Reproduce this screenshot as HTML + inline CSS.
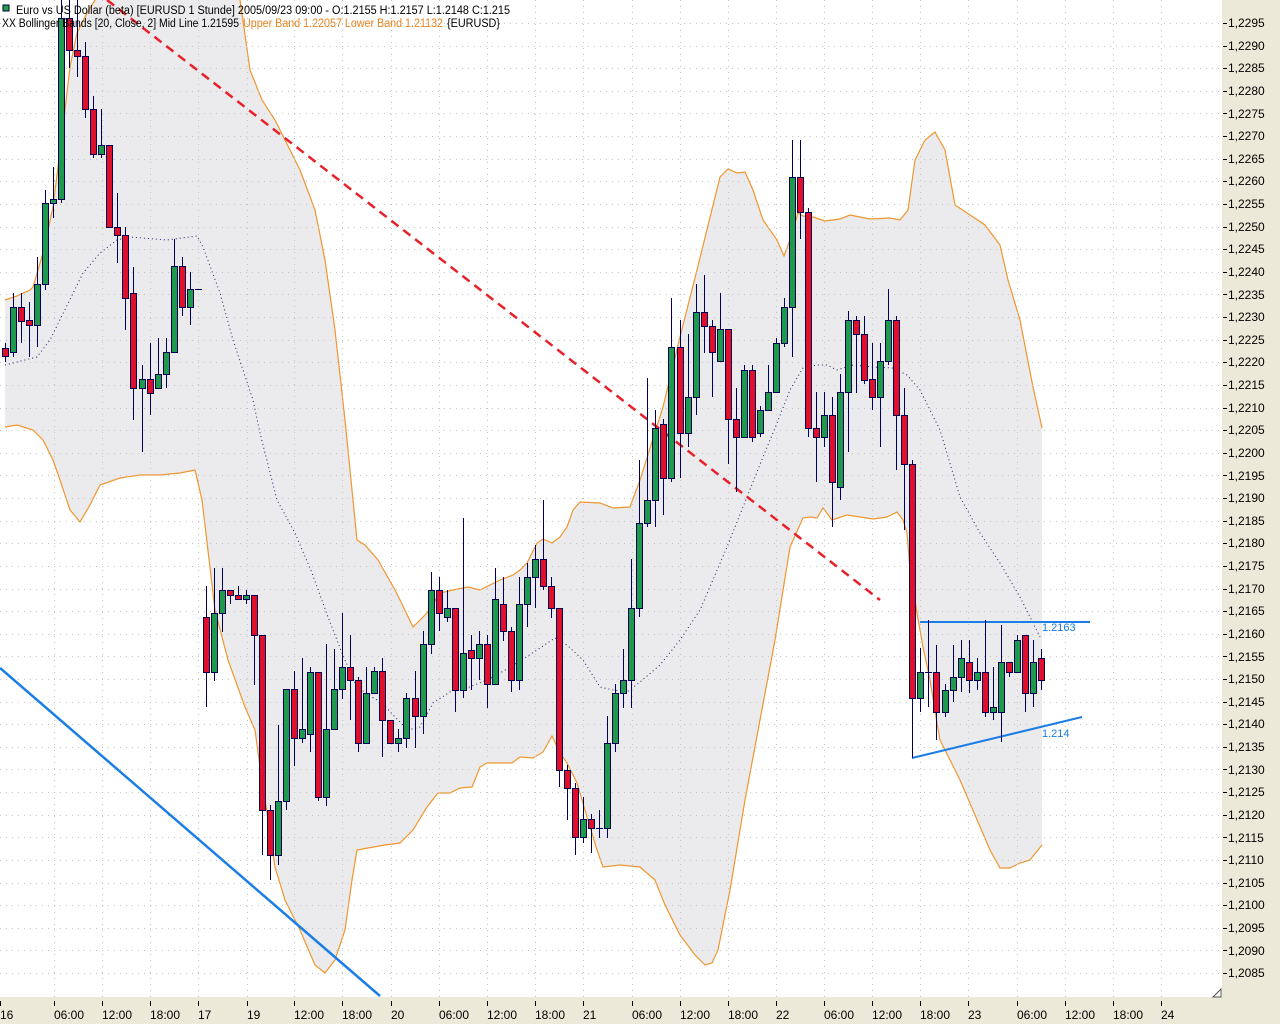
<!DOCTYPE html>
<html><head><meta charset="utf-8"><style>
html,body{margin:0;padding:0;background:#ece9d8;}
svg{display:block;font-family:"Liberation Sans",sans-serif;}
</style></head><body>
<svg id="s" width="1280" height="1024" xmlns="http://www.w3.org/2000/svg">
<rect x="0" y="0" width="1280" height="1024" fill="#ece9d8"/>
<rect x="0" y="0" width="1222" height="997" fill="#ffffff"/>
<g id="band"></g>
<g id="grid"></g>
<g id="mid"></g>
<g id="lines">
<line x1="0" y1="668" x2="380" y2="996" stroke="#1a7ee6" stroke-width="2.5"/>
<line x1="107" y1="0" x2="880" y2="600" stroke="#e8202a" stroke-width="2.5" stroke-dasharray="9,6"/>
<line x1="920" y1="622" x2="1090" y2="622" stroke="#1a7ee6" stroke-width="2"/>
<line x1="912" y1="758" x2="1082" y2="717" stroke="#1a7ee6" stroke-width="2"/>
</g>
<g id="candles"></g>
<g font-size="11" fill="#1a7ee6">
<text x="1042" y="631">1.2163</text>
<text x="1042" y="737">1.214</text>
</g>
<g id="axes" font-size="12" fill="#000"></g>
<path d="M1213 997 L1221 989 L1221 997 Z" fill="#fff" stroke="#555" stroke-width="1"/>
<g font-size="11.5" fill="#000">
<rect x="3" y="5" width="6" height="6" fill="#22a04a" stroke="#003" stroke-width="1"/>
<text x="16" y="14" textLength="494" lengthAdjust="spacingAndGlyphs">Euro vs US Dollar (beta) [EURUSD  1 Stunde] 2005/09/23 09:00 - O:1.2155 H:1.2157 L:1.2148 C:1.215</text>
<text x="2" y="27" textLength="237" lengthAdjust="spacingAndGlyphs">XX Bollinger Bands [20, Close, 2] Mid Line 1.21595</text>
<text x="243" y="27" fill="#e8831e" textLength="200" lengthAdjust="spacingAndGlyphs">Upper Band 1.22057 Lower Band 1.21132</text>
<text x="447" y="27" textLength="53" lengthAdjust="spacingAndGlyphs">{EURUSD}</text>
</g>
<g font-size="12" fill="#000">
<text x="0" y="1019">16</text><text x="54" y="1019">06:00</text><text x="102" y="1019">12:00</text><text x="150" y="1019">18:00</text>
<text x="198" y="1019">17</text><text x="247" y="1019">19</text><text x="294" y="1019">12:00</text><text x="342" y="1019">18:00</text>
<text x="391" y="1019">20</text><text x="439" y="1019">06:00</text><text x="487" y="1019">12:00</text><text x="535" y="1019">18:00</text>
<text x="583" y="1019">21</text><text x="632" y="1019">06:00</text><text x="680" y="1019">12:00</text><text x="728" y="1019">18:00</text>
<text x="776" y="1019">22</text><text x="824" y="1019">06:00</text><text x="872" y="1019">12:00</text><text x="920" y="1019">18:00</text>
<text x="968" y="1019">23</text><text x="1017" y="1019">06:00</text><text x="1065" y="1019">12:00</text><text x="1113" y="1019">18:00</text>
<text x="1161" y="1019">24</text>
</g>
<g font-size="12" fill="#000">
<text x="1228" y="27">1,2295</text><text x="1228" y="50">1,2290</text><text x="1228" y="72">1,2285</text><text x="1228" y="95">1,2280</text>
<text x="1228" y="118">1,2275</text><text x="1228" y="140">1,2270</text><text x="1228" y="163">1,2265</text><text x="1228" y="185">1,2260</text>
<text x="1228" y="208">1,2255</text><text x="1228" y="231">1,2250</text><text x="1228" y="253">1,2245</text><text x="1228" y="276">1,2240</text>
<text x="1228" y="299">1,2235</text><text x="1228" y="321">1,2230</text><text x="1228" y="344">1,2225</text><text x="1228" y="366">1,2220</text>
<text x="1228" y="389">1,2215</text><text x="1228" y="412">1,2210</text><text x="1228" y="434">1,2205</text><text x="1228" y="457">1,2200</text>
<text x="1228" y="480">1,2195</text><text x="1228" y="502">1,2190</text><text x="1228" y="525">1,2185</text><text x="1228" y="547">1,2180</text>
<text x="1228" y="570">1,2175</text><text x="1228" y="593">1,2170</text><text x="1228" y="615">1,2165</text><text x="1228" y="638">1,2160</text>
<text x="1228" y="661">1,2155</text><text x="1228" y="683">1,2150</text><text x="1228" y="706">1,2145</text><text x="1228" y="728">1,2140</text>
<text x="1228" y="751">1,2135</text><text x="1228" y="774">1,2130</text><text x="1228" y="796">1,2125</text><text x="1228" y="819">1,2120</text>
<text x="1228" y="842">1,2115</text><text x="1228" y="864">1,2110</text><text x="1228" y="887">1,2105</text><text x="1228" y="909">1,2100</text>
<text x="1228" y="932">1,2095</text><text x="1228" y="955">1,2090</text><text x="1228" y="977">1,2085</text>
</g>
</svg>
<script>
var NS="http://www.w3.org/2000/svg";
function el(p,t,a){var e=document.createElementNS(NS,t);for(var k in a)e.setAttribute(k,a[k]);p.appendChild(e);return e;}
var up=[[5,300],[17,296],[30,290],[33,287],[43,253],[53,207],[63,127],[70,67],[77,33],[87,13],[95,0],[110,-20],[230,-20],[240,0],[250,70],[262,100],[275,120],[290,150],[300,170],[315,210],[325,260],[335,330],[345,420],[353,500],[357,540],[365,545],[378,560],[395,590],[400,600],[413,627],[427,613],[440,593],[453,590],[468,587],[480,590],[500,580],[513,575],[520,570],[527,563],[537,543],[543,539],[552,543],[560,537],[567,527],[573,510],[580,502],[600,503],[613,508],[630,507],[640,480],[663,407],[680,337],[697,270],[720,177],[728,169],[737,173],[745,172],[753,190],[763,220],[777,240],[784,256],[790,240],[798,213],[803,216],[813,217],[825,221],[840,219],[850,215],[870,219],[890,218],[900,220],[908,210],[915,160],[925,140],[935,132],[945,150],[955,205],[970,215],[985,225],[1000,245],[1008,280],[1020,320],[1033,387],[1042,428]];
var lo=[[5,427],[17,425],[33,430],[43,440],[53,460],[60,480],[70,510],[80,522],[90,505],[100,485],[120,478],[140,475],[160,475],[180,473],[195,470],[202,500],[215,610],[228,660],[245,707],[255,730],[260,767],[267,813],[275,867],[285,900],[300,930],[315,965],[325,973],[335,960],[345,930],[352,880],[357,850],[368,848],[385,845],[400,843],[413,830],[427,807],[438,793],[450,793],[460,788],[472,787],[480,767],[487,763],[512,763],[520,757],[533,758],[543,752],[552,736],[560,753],[567,763],[577,783],[587,817],[597,850],[603,867],[620,865],[640,867],[655,880],[665,905],[680,935],[695,955],[705,965],[712,963],[718,950],[730,890],[745,800],[760,720],[775,640],[790,547],[803,518],[810,517],[817,518],[823,508],[832,520],[847,515],[873,519],[887,517],[897,512],[903,520],[907,533],[910,570],[917,613],[923,647],[930,680],[937,723],[940,740],[950,760],[960,780],[975,815],[990,850],[1000,868],[1010,868],[1020,863],[1030,860],[1042,845]];
var mid=[[5,365],[37,357],[50,340],[83,273],[100,253],[117,240],[130,237],[167,240],[197,236],[203,247],[220,293],[233,340],[253,400],[260,433],[277,500],[295,533],[312,573],[328,617],[342,653],[355,683],[365,693],[382,703],[395,717],[408,730],[420,727],[433,703],[453,690],[467,688],[487,680],[500,673],[517,663],[537,650],[555,638],[567,645],[583,660],[600,687],[613,690],[627,692],[640,682],[660,665],[680,640],[700,610],[727,547],[747,497],[763,457],[777,423],[790,390],[803,368],[817,365],[827,365],[837,370],[853,365],[873,367],[893,368],[907,375],[920,390],[940,430],[960,497],[980,533],[1000,563],[1020,597],[1040,637]];
function pts(a){return a.map(function(p){return p[0]+","+p[1]}).join(" ");}
var band=document.getElementById("band");
el(band,"polygon",{points:pts(up)+" "+pts(lo.slice().reverse()),fill:"#ebebed"});
el(band,"polyline",{points:pts(up),fill:"none",stroke:"#f0962e","stroke-width":"1.2"});
el(band,"polyline",{points:pts(lo),fill:"none",stroke:"#f0962e","stroke-width":"1.2"});
el(document.getElementById("mid"),"polyline",{points:pts(mid),fill:"none",stroke:"#1a1a6e","stroke-width":"1","stroke-dasharray":"1,3"});
var g=document.getElementById("grid"),ax=document.getElementById("axes");
for(var k=0;k<=42;k++){var y=Math.round(23+k*22.62)+0.5;
 el(g,"line",{x1:0,y1:y,x2:1222,y2:y,stroke:"#c4c4c4","stroke-width":"1","stroke-dasharray":"1,5"});
 el(ax,"line",{x1:1223,y1:y,x2:1227,y2:y,stroke:"#000","stroke-width":"1"});}
var vx=[54,102,150,198,247,294,342,391,439,487,535,583,632,680,728,776,824,872,920,968,1017,1065,1113,1161];
vx.forEach(function(x){x+=0.5;if(x<1222)el(g,"line",{x1:x,y1:0,x2:x,y2:997,stroke:"#c4c4c4","stroke-width":"1","stroke-dasharray":"1,5"});});
[0].concat(vx).forEach(function(x){el(ax,"line",{x1:x+0.5,y1:1001,x2:x+0.5,y2:1006,stroke:"#000","stroke-width":"1"});});
// [top,bottom,high,low,color]
var C=[[348,356,343,362,'r'],[307,352,293,357,'g'],[307,321,293,343,'r'],[320,325,302,357,'r'],[284,325,257,347,'g'],[203,284,190,290,'g'],[199,203,167,218,'g'],[18,199,0,203,'g'],[18,50,0,68,'r'],[50,56,0,77,'r'],
[56,109,42,118,'r'],[109,154,96,158,'r'],[145,154,109,158,'g'],[145,227,145,227,'r'],[227,235,193,263,'r'],[235,298,227,330,'r'],[293,388,267,420,'r'],[379,388,365,452,'g'],[379,393,343,415,'r'],[374,388,338,388,'g'],
[352,374,338,388,'g'],[266,352,239,352,'g'],[266,307,257,316,'r'],[289,307,272,325,'g'],[289,289,289,289,'d'],[617,672,586,707,'r'],[613,672,568,681,'g'],[590,613,568,632,'g'],[590,595,590,604,'r'],[595,599,586,599,'r'],
[595,599,590,604,'g'],[595,635,595,685,'r'],[635,810,635,855,'r'],[810,855,805,880,'r'],[801,855,725,865,'g'],[689,801,689,810,'g'],[689,738,671,766,'r'],[729,738,658,743,'g'],[672,734,667,752,'g'],[672,797,672,801,'r'],
[729,797,644,806,'g'],[689,729,649,729,'g'],[667,689,613,699,'g'],[667,680,635,720,'r'],[680,743,677,752,'r'],[693,743,667,743,'g'],[671,693,667,693,'g'],[671,720,658,757,'r'],[720,743,720,743,'r'],[738,743,729,752,'g'],
[698,738,693,748,'g'],[698,716,671,748,'r'],[644,716,631,734,'g'],[590,644,572,654,'g'],[590,613,577,631,'r'],[608,617,590,622,'g'],[608,690,608,712,'r'],[653,690,518,698,'g'],[650,658,635,690,'r'],[644,658,631,680,'g'],
[644,684,635,708,'r'],[599,684,568,684,'g'],[604,631,577,641,'r'],[631,680,627,692,'r'],[604,680,577,690,'g'],[577,604,563,627,'g'],[559,577,545,608,'g'],[559,586,500,590,'r'],[586,608,577,618,'r'],[608,770,608,787,'r'],
[770,788,765,820,'r'],[788,837,783,855,'r'],[819,837,797,843,'g'],[819,828,814,853,'r'],[828,828,810,838,'d'],[743,828,716,838,'g'],[693,743,684,752,'g'],[680,693,649,708,'g'],[608,680,559,708,'g'],[523,608,460,617,'g'],
[500,523,378,527,'g'],[428,500,410,527,'g'],[424,478,419,515,'r'],[347,478,298,482,'g'],[347,433,320,478,'r'],[397,433,334,447,'g'],[312,397,284,415,'g'],[312,326,275,353,'r'],[326,352,320,397,'r'],[329,361,293,361,'g'],
[329,419,329,464,'r'],[419,437,388,492,'r'],[370,437,365,437,'g'],[370,437,365,442,'r'],[410,433,406,437,'g'],[392,410,365,410,'g'],[343,392,338,392,'g'],[307,343,298,347,'g'],[177,307,140,357,'g'],[177,212,140,239,'r'],
[212,428,208,437,'r'],[428,437,392,482,'r'],[415,437,392,447,'g'],[415,482,397,527,'r'],[392,487,374,500,'g'],[320,392,311,452,'g'],[320,334,316,393,'r'],[334,380,316,384,'r'],[379,397,343,410,'r'],[361,397,343,447,'g'],
[320,361,289,365,'g'],[320,415,316,470,'r'],[415,464,388,530,'r'],[464,698,460,758,'r'],[672,698,648,712,'g'],[672,672,620,707,'d'],[672,712,645,740,'r'],[690,712,684,717,'g'],[677,690,645,702,'g'],[658,677,640,692,'g'],
[662,680,640,693,'r'],[672,680,658,690,'g'],[672,712,620,717,'r'],[707,712,667,720,'g'],[662,712,625,742,'g'],[662,672,662,677,'r'],[640,672,635,672,'g'],[635,693,635,712,'r'],[662,693,640,707,'g'],[658,680,649,690,'r']];
var cg=document.getElementById("candles");
C.forEach(function(c,i){var x=Math.round(5+8.03*i);
 el(cg,"line",{x1:x+0.5,y1:c[2],x2:x+0.5,y2:c[3],stroke:"#00005a","stroke-width":"1"});
 if(c[4]=='d'){el(cg,"line",{x1:x-3,y1:c[0]+0.5,x2:x+4,y2:c[0]+0.5,stroke:"#00005a","stroke-width":"1"});}
 else{var h=Math.max(c[1]-c[0],3);el(cg,"rect",{x:x-2.5,y:c[0]+0.5,width:6,height:h,fill:c[4]=='g'?'#1f9a4a':'#e0102a',stroke:"#00005a","stroke-width":"1"});}
});
</script>
</body></html>
